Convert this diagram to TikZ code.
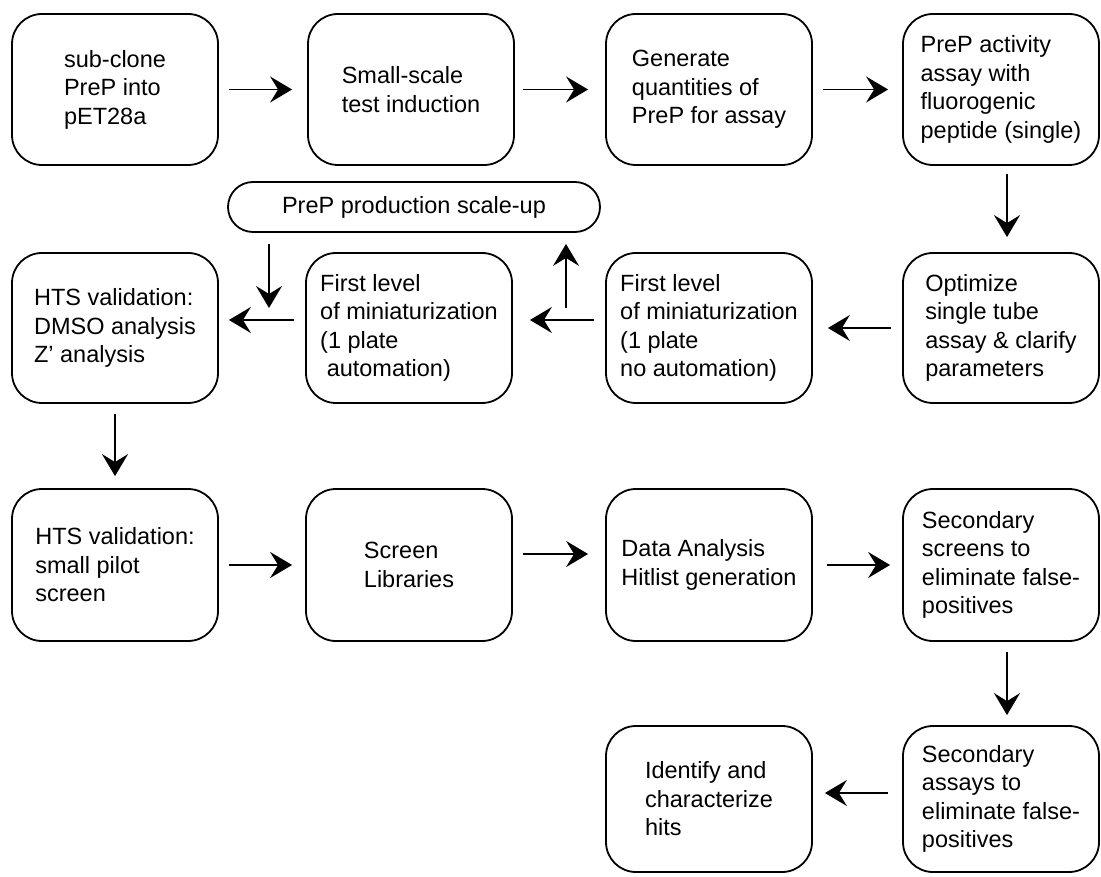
\documentclass[tikz,border=0pt]{standalone}
\usepackage{fontspec}
\setmainfont{Liberation Sans}
\usepackage{tikz}
\usetikzlibrary{arrows.meta}

\tikzset{
  procbox/.style={draw, line width=1.8pt, rounded corners=30pt, align=left,
                  minimum width=206pt, minimum height=151pt, inner sep=0pt,
                  font=\fontsize{23.5}{28.5}\selectfont},
  arr/.style={line width=1.8pt, -{Stealth[length=22pt, width=26pt, inset=8pt]}}
}

\begin{document}
\begin{tikzpicture}[x=1pt, y=-1pt]
    \useasboundingbox (0,0) rectangle (1101,877);
    % first row
    \node[procbox] (clone) at (115,89.5) {sub-clone\\PreP into\\pET28a};
    \node[procbox] (induct) at (411,89.5) {Small-scale\\test induction};
    \node[procbox] (generate) at (709,89.5) {Generate\\quantities of\\PreP for assay};
    \node[procbox, minimum width=196pt] (activity) at (1001,89.5)
      {PreP activity\\assay with\\fluorogenic\\peptide (single)};
    % second row
    \node[procbox, rounded corners=25pt, minimum width=372pt, minimum height=50pt]
      (scaleup) at (414,207) {PreP production scale-up};
    \node[procbox, minimum height=150pt] (dmso) at (115,328)
      {HTS validation:\\DMSO analysis\\Z’ analysis};
    \node[procbox, minimum height=150pt] (automini) at (409,328)
      {First level\\of miniaturization\\(1 plate\\\hspace*{0.28em}automation)};
    \node[procbox, minimum height=150pt] (nomini) at (709,328)
      {First level\\of miniaturization\\(1 plate\\no automation)};
    \node[procbox, minimum width=196pt, minimum height=150pt] (optimize) at (1001,328)
      {Optimize\\single tube\\assay \& clarify\\parameters};
    % third row
    \node[procbox, minimum height=152pt] (pilot) at (115,565)
      {HTS validation:\\small pilot\\screen};
    \node[procbox, minimum height=152pt] (screenlib) at (409,565) {Screen\\Libraries};
    \node[procbox, minimum height=152pt] (hitlist) at (709,565)
      {Data Analysis\\Hitlist generation};
    \node[procbox, minimum width=196pt, minimum height=152pt] (secscreen) at (1001,565)
      {Secondary\\screens to\\eliminate false-\\positives};
    % last row
    \node[procbox, minimum height=146pt] (identify) at (709,799)
      {Identify and\\characterize\\hits};
    \node[procbox, minimum width=196pt, minimum height=146pt] (secassay) at (1001,799)
      {Secondary\\assays to\\eliminate false-\\positives};

    \coordinate (upfoot) at (566,308);
    \coordinate (downfoot) at (269,308);

    % connectors
    \draw[arr, shorten <=10pt, shorten >=15pt] (clone) -- (induct);
    \draw[arr, shorten <=8pt, shorten >=17pt] (induct) -- (generate);
    \draw[arr, shorten <=10pt, shorten >=14pt] (generate) -- (activity);
    \draw[arr, shorten <=8pt, shorten >=15pt]
      ([xshift=6pt]activity.south) -- ([xshift=6pt]optimize.north);
    \draw[arr, shorten <=11pt, shorten >=15pt] (optimize) -- (nomini);
    \draw[arr, shorten <=11pt, shorten >=17pt]
      ([yshift=8pt]nomini.west) -- ([yshift=8pt]automini.east);
    \draw[arr, shorten >=11pt] (upfoot) -- (upfoot |- scaleup.south);
    \draw[arr, shorten <=11pt] (downfoot |- scaleup.south) -- (downfoot);
    \draw[arr, shorten <=11pt, shorten >=10pt]
      ([yshift=8pt]automini.west) -- ([yshift=8pt]dmso.east);
    \draw[arr, shorten <=10pt, shorten >=12pt] (dmso) -- (pilot);
    \draw[arr, shorten <=10pt, shorten >=13pt] (pilot) -- (screenlib);
    \draw[arr, shorten <=10pt, shorten >=17pt]
      ([yshift=11pt]screenlib.east) -- ([yshift=11pt]hitlist.west);
    \draw[arr, shorten <=14pt, shorten >=12pt] (hitlist) -- (secscreen);
    \draw[arr, shorten <=10pt, shorten >=10pt]
      ([xshift=6pt]secscreen.south) -- ([xshift=6pt]secassay.north);
    \draw[arr, shorten <=14pt, shorten >=12pt]
      ([yshift=6pt]secassay.west) -- ([yshift=6pt]identify.east);
  \end{tikzpicture}
\end{document}
